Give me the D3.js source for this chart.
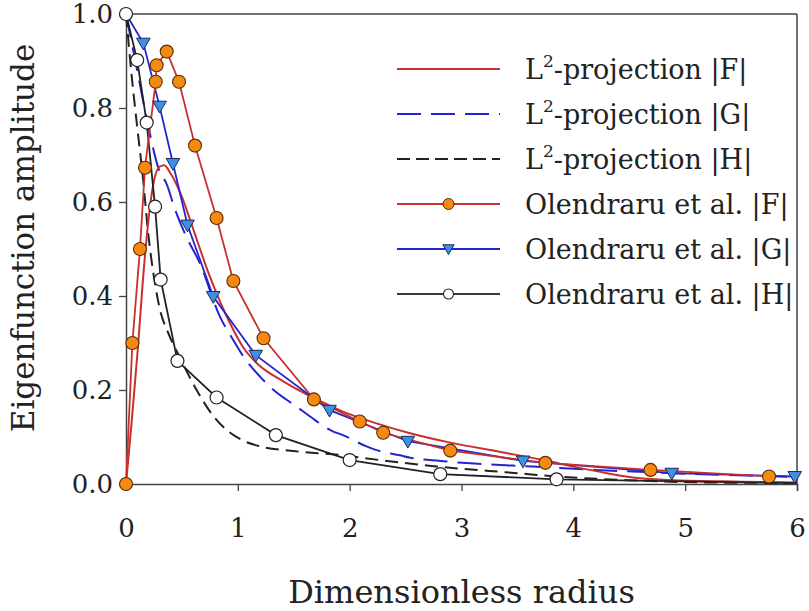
<!DOCTYPE html>
<html>
<head>
<meta charset="utf-8">
<script src="https://cdn.jsdelivr.net/npm/d3@7"></script>
<style>
  html, body { margin: 0; padding: 0; background: #fff; }
  svg { display: block; }
  text { font-family: "DejaVu Serif", "Liberation Serif", serif; fill: #222; }
</style>
</head>
<body>
<svg id="chart" width="809" height="611"></svg>
<script>
// ---- data ----
const xTicks = [0, 1, 2, 3, 4, 5, 6];
const yTicks = [0.0, 0.2, 0.4, 0.6, 0.8, 1.0];

// L2-projection |F|
const l2F_x = [0, 0.05, 0.11, 0.15, 0.2, 0.25, 0.3, 0.34, 0.4, 0.5, 0.59, 0.75, 0.93, 1.05, 1.17, 1.41, 1.68, 1.94, 2.24, 2.54, 2.9, 3.35, 3.75, 4.0, 4.3, 4.6, 4.9, 5.5, 6.0];
const l2F_y = [0, 0.13, 0.30, 0.43, 0.56, 0.645, 0.675, 0.678, 0.66, 0.611, 0.55, 0.441, 0.342, 0.29, 0.257, 0.218, 0.183, 0.154, 0.129, 0.108, 0.088, 0.068, 0.05, 0.037, 0.023, 0.012, 0.008, 0.005, 0.003];
// L2-projection |G|
const l2G_x = [0, 0.1, 0.2, 0.3, 0.36, 0.44, 0.54, 0.66, 0.84, 0.96, 1.05, 1.2, 1.32, 1.53, 1.65, 1.84, 1.94, 2.15, 2.24, 2.45, 2.54, 2.81, 3.08, 3.64, 4.2, 5.0, 6.0];
const l2G_y = [1.0, 0.88, 0.76, 0.665, 0.64, 0.583, 0.526, 0.47, 0.356, 0.306, 0.271, 0.228, 0.2, 0.164, 0.143, 0.113, 0.104, 0.08, 0.072, 0.061, 0.056, 0.049, 0.044, 0.037, 0.03, 0.022, 0.015];
// L2-projection |H|
const l2H_x = [0, 0.05, 0.1, 0.15, 0.2, 0.25, 0.3, 0.38, 0.48, 0.62, 0.77, 0.9, 1.05, 1.2, 1.5, 1.9, 2.3, 2.75, 3.5, 3.8, 4.5, 5.0, 6.0];
const l2H_y = [1.0, 0.87, 0.76, 0.655, 0.53, 0.44, 0.375, 0.32, 0.27, 0.205, 0.148, 0.115, 0.092, 0.08, 0.07, 0.062, 0.05, 0.038, 0.023, 0.017, 0.008, 0.004, 0.002];

// Olendraru et al. |F|
const olF_x = [0, 0.057, 0.125, 0.17, 0.266, 0.274, 0.364, 0.474, 0.617, 0.81, 0.96, 1.23, 1.68, 2.09, 2.30, 2.90, 3.75, 4.69, 5.75];
const olF_y = [0, 0.30, 0.50, 0.673, 0.856, 0.891, 0.92, 0.856, 0.72, 0.566, 0.432, 0.31, 0.18, 0.133, 0.109, 0.071, 0.045, 0.030, 0.016];
// Olendraru et al. |G|
const olG_x = [0, 0.155, 0.30, 0.42, 0.55, 0.78, 1.16, 1.82, 2.52, 3.55, 4.88, 5.98];
const olG_y = [1.0, 0.938, 0.804, 0.682, 0.551, 0.399, 0.274, 0.157, 0.091, 0.049, 0.023, 0.016];
// Olendraru et al. |H|
const olH_x = [0, 0.10, 0.185, 0.26, 0.31, 0.46, 0.81, 1.34, 2.0, 2.81, 3.85, 6.0];
const olH_y = [1.0, 0.902, 0.769, 0.59, 0.435, 0.262, 0.184, 0.104, 0.051, 0.021, 0.010, 0.002];

const legendLabels = ["-projection |F|", "-projection |G|", "-projection |H|", "Olendraru et al. |F|", "Olendraru et al. |G|", "Olendraru et al. |H|"];

// ---- layout ----
const svg = d3.select("#chart");
const mLeft = 126, mRight = 797, mTop = 14, mBottom = 484;
const x = d3.scaleLinear().domain([0, 6]).range([mLeft, mRight]);
const y = d3.scaleLinear().domain([0, 1]).range([mBottom, mTop]);

const RED = "#c8302c", BLUE = "#2424d0", BLACK = "#222", DARK = "#3a3a3a";
const ORANGE = "#f58a12", TRI = "#3e8fe6";

const zip = (xs, ys) => xs.map((v, i) => [v, ys[i]]);

// frame (top/right)
svg.append("line").attr("x1", mLeft).attr("x2", mRight).attr("y1", mTop).attr("y2", mTop)
  .attr("stroke", "#444").attr("stroke-width", 1.5);
svg.append("line").attr("x1", mRight).attr("x2", mRight).attr("y1", mTop).attr("y2", mBottom)
  .attr("stroke", "#444").attr("stroke-width", 1.5);

// axes
const xAxis = svg.append("g").attr("transform", `translate(0,${mBottom})`)
  .call(d3.axisBottom(x).tickValues(xTicks).tickFormat(d3.format("d")).tickSize(7).tickPadding(28));
const yAxis = svg.append("g").attr("transform", `translate(${mLeft},0)`)
  .call(d3.axisLeft(y).tickValues(yTicks).tickFormat(d3.format(".1f")).tickSize(7).tickPadding(6));
[xAxis, yAxis].forEach(g => {
  g.select(".domain").attr("stroke", "#444").attr("stroke-width", 1.5);
  g.selectAll(".tick line").attr("stroke", "#444").attr("stroke-width", 1.3);
  g.selectAll(".tick text").attr("font-family", "DejaVu Serif").attr("font-size", 26).attr("fill", "#222");
});

// axis labels
svg.append("text").attr("x", (mLeft + mRight) / 2).attr("y", 603)
  .attr("text-anchor", "middle").attr("font-size", 32).text("Dimensionless radius");
svg.append("text").attr("transform", `translate(34,238) rotate(-90)`)
  .attr("text-anchor", "middle").attr("font-size", 31).text("Eigenfunction amplitude");

// clip
svg.append("clipPath").attr("id", "clip").append("rect")
  .attr("x", mLeft - 10).attr("y", mTop - 10).attr("width", mRight - mLeft + 20).attr("height", mBottom - mTop + 20);
const plot = svg.append("g").attr("clip-path", "url(#clip)");

const smooth = d3.line().x(d => x(d[0])).y(d => y(d[1])).curve(d3.curveMonotoneX);
const straight = d3.line().x(d => x(d[0])).y(d => y(d[1]));

// L2 projection curves
plot.append("path").datum(zip(l2G_x, l2G_y)).attr("d", smooth)
  .attr("fill", "none").attr("stroke", BLUE).attr("stroke-width", 2).attr("stroke-dasharray", "24,10");
plot.append("path").datum(zip(l2H_x, l2H_y)).attr("d", smooth)
  .attr("fill", "none").attr("stroke", BLACK).attr("stroke-width", 2).attr("stroke-dasharray", "13,7");
plot.append("path").datum(zip(l2F_x, l2F_y)).attr("d", smooth)
  .attr("fill", "none").attr("stroke", RED).attr("stroke-width", 2);

// Olendraru lines
plot.append("path").datum(zip(olH_x, olH_y)).attr("d", straight)
  .attr("fill", "none").attr("stroke", BLACK).attr("stroke-width", 1.8);
plot.append("path").datum(zip(olG_x, olG_y)).attr("d", straight)
  .attr("fill", "none").attr("stroke", BLUE).attr("stroke-width", 1.8);
plot.append("path").datum(zip(olF_x, olF_y)).attr("d", straight)
  .attr("fill", "none").attr("stroke", RED).attr("stroke-width", 1.8);

// markers
const tri = d3.symbol().type(d3.symbolTriangle).size(80);
svg.append("g").selectAll("path").data(zip(olG_x, olG_y).filter((d, i) => i > 0)).join("path")
  .attr("d", tri).attr("transform", d => `translate(${x(d[0])},${y(d[1]) - 1}) rotate(180)`)
  .attr("fill", TRI).attr("stroke", "#1e2a55").attr("stroke-width", 1);
svg.append("g").selectAll("circle").data(zip(olF_x, olF_y)).join("circle")
  .attr("cx", d => x(d[0])).attr("cy", d => y(d[1])).attr("r", 6.5)
  .attr("fill", ORANGE).attr("stroke", "#5a2e08").attr("stroke-width", 1.1);
svg.append("g").selectAll("circle").data(zip(olH_x, olH_y).filter((d, i, a) => i < a.length - 1)).join("circle")
  .attr("cx", d => x(d[0])).attr("cy", d => y(d[1])).attr("r", 6.5)
  .attr("fill", "#fff").attr("stroke", "#222").attr("stroke-width", 1.2);

// legend
const legY0 = 69, legDy = 45, lx1 = 397, lx2 = 500, tx = 525;
const legStyles = [
  { stroke: RED, dash: null, mark: null },
  { stroke: BLUE, dash: "24,10", mark: null },
  { stroke: BLACK, dash: "13,6", mark: null },
  { stroke: RED, dash: null, mark: "circle" },
  { stroke: BLUE, dash: null, mark: "tri" },
  { stroke: DARK, dash: null, mark: "white" }
];
const leg = svg.append("g");
legendLabels.forEach((lab, i) => {
  const yy = legY0 + i * legDy;
  const st = legStyles[i];
  leg.append("line").attr("x1", lx1).attr("x2", lx2).attr("y1", yy).attr("y2", yy)
    .attr("stroke", st.stroke).attr("stroke-width", 2).attr("stroke-dasharray", st.dash);
  const mx = (lx1 + lx2) / 2;
  if (st.mark === "circle") leg.append("circle").attr("cx", mx).attr("cy", yy).attr("r", 5.5)
    .attr("fill", ORANGE).attr("stroke", "#5a2e08").attr("stroke-width", 1);
  if (st.mark === "tri") leg.append("path").attr("d", d3.symbol().type(d3.symbolTriangle).size(55))
    .attr("transform", `translate(${mx},${yy - 1}) rotate(180)`).attr("fill", TRI).attr("stroke", "#1e2a55");
  if (st.mark === "white") leg.append("circle").attr("cx", mx).attr("cy", yy).attr("r", 5)
    .attr("fill", "#fff").attr("stroke", "#222").attr("stroke-width", 1.1);
  const t = leg.append("text").attr("x", tx).attr("y", yy + 10).attr("font-size", 27);
  if (i < 3) {
    t.append("tspan").text("L");
    t.append("tspan").attr("font-size", 17).attr("dy", -12).text("2");
    t.append("tspan").attr("dy", 12).text(lab);
  } else {
    t.text(lab);
  }
});
</script>
</body>
</html>
